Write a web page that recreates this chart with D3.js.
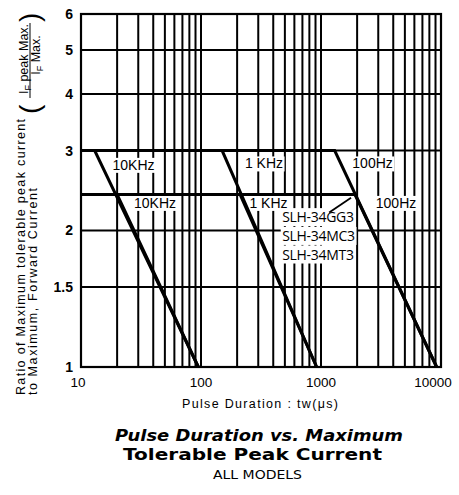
<!DOCTYPE html>
<html>
<head>
<meta charset="utf-8">
<script src="https://cdn.jsdelivr.net/npm/d3@7"></script>
<style>
  body { margin: 0; background: #fff; }
  svg { display: block; }
  .grid line { stroke: #000; stroke-width: 2; }
  .curve { fill: none; stroke: #000; stroke-width: 3; stroke-linejoin: miter; }
  .tick-y { font: bold 14px "Liberation Sans", Arial, sans-serif; }
  .tick-x { font: 13.5px "Liberation Sans", Arial, sans-serif; }
  .freq { font: 14px "Liberation Sans", Arial, sans-serif; }
  .model { font: 14px "Open Sans", sans-serif; letter-spacing: -0.3px; }
  .ytitle { font: 12.5px "Liberation Sans", Arial, sans-serif; }
</style>
</head>
<body>
<script>
"use strict";

// window / plot box
var W = 459, H = 495;
var plot = {left: 81, right: 441, top: 14, bottom: 367};

// axis ticks
var xTickValues = [10, 100, 1000, 10000];
var xTickLabels = ["10", "100", "1000", "10000"];
var yTickValues = [1, 1.5, 2, 3, 4, 5, 6];
var yTickLabels = ["1", "1.5", "2", "3", "4", "5", "6"];
var xMinorGrid = [20, 30, 40, 50, 60, 70, 80, 90, 100,
                  200, 300, 400, 500, 600, 700, 800, 900, 1000,
                  2000, 3000, 4000, 5000, 6000, 7000, 8000, 9000];
var yGrid = [1.5, 2, 3, 4, 5];

// curves: one per repetition frequency, two current levels
var frequencies = ["10KHz", "1 KHz", "100Hz"];
var levelHigh = 3.0;          // other models
var levelLow = 2.4;           // SLH-34GG3 / MC3 / MT3
var kneeHigh = [13, 150, 1300];   // tw where roll-off starts at 3.0
var kneeLow = [20, 212, 1920];    // tw where roll-off meets 2.4
var endAtOne = [95, 920, 9200];   // tw where ratio reaches 1

// label positions (tw, ratio)
var labelHighPos = [[27.4, 2.79], [335, 2.81], [2690, 2.81]];
var labelLowPos = [[41.4, 2.30], [365, 2.30], [4220, 2.30]];
var modelNames = ["SLH-34GG3", "SLH-34MC3", "SLH-34MT3"];
var modelPos = [[475, 2.14], [475, 1.945], [475, 1.77]];
var pointerFrom = [1170, 2.19], pointerTo = [1780, 2.36];

var x = d3.scaleLog().domain([10, 10000]).range([plot.left, plot.right]);
var y = d3.scaleLog().domain([1, 6]).range([plot.bottom, plot.top]);

var svg = d3.select("body").append("svg")
    .attr("width", W)
    .attr("height", H);

// -- grid --
var grid = svg.append("g").attr("class", "grid");
grid.selectAll(".gx").data(xMinorGrid).enter()
  .append("line")
    .attr("x1", function(d){ return x(d); })
    .attr("x2", function(d){ return x(d); })
    .attr("y1", plot.top)
    .attr("y2", plot.bottom);
grid.selectAll(".gy").data(yGrid).enter()
  .append("line")
    .attr("x1", plot.left)
    .attr("x2", plot.right)
    .attr("y1", function(d){ return y(d); })
    .attr("y2", function(d){ return y(d); });

svg.append("rect")
    .attr("x", plot.left)
    .attr("y", plot.top)
    .attr("width", plot.right - plot.left)
    .attr("height", plot.bottom - plot.top)
    .attr("fill", "none")
    .attr("stroke", "#000")
    .attr("stroke-width", 2.2);

// -- tick labels --
svg.selectAll(".tick-y").data(yTickValues).enter()
  .append("text")
    .attr("class", "tick-y")
    .attr("x", 73)
    .attr("y", function(d){ return y(d) + 5; })
    .attr("text-anchor", "end")
    .text(function(d, i){ return yTickLabels[i]; });

svg.selectAll(".tick-x").data(xTickValues).enter()
  .append("text")
    .attr("class", "tick-x")
    .attr("x", function(d, i){ return x(d) + (i == 0 ? -3 : i == 3 ? -8 : 0); })
    .attr("y", 387)
    .attr("text-anchor", "middle")
    .text(function(d, i){ return xTickLabels[i]; });

// white boxes behind labels, so grid lines break around them
var labelLayer = svg.append("g");
var curveLayer = svg.append("g");
var textLayer = svg.append("g");

function addLabel(txt, cls, px, py, anchor){
  var t = textLayer.append("text")
      .attr("class", cls)
      .attr("x", px)
      .attr("y", py)
      .attr("text-anchor", anchor)
      .text(txt);
  var b = t.node().getBBox();
  labelLayer.append("rect")
      .attr("x", b.x - 1.5)
      .attr("y", b.y + 1)
      .attr("width", b.width + 3)
      .attr("height", b.height - 1)
      .attr("fill", "#fff");
}

frequencies.forEach(function(f, i){
  addLabel(f, "freq", x(labelHighPos[i][0]), y(labelHighPos[i][1]) + 5, "middle");
  addLabel(f, "freq", x(labelLowPos[i][0]), y(labelLowPos[i][1]) + 5, "middle");
});
modelNames.forEach(function(m, i){
  addLabel(m, "model", x(modelPos[i][0]), y(modelPos[i][1]) + 5, "start");
});

// -- curves --
var line = d3.line()
    .x(function(d){ return x(d[0]); })
    .y(function(d){ return y(d[1]); });

var curves = [];
frequencies.forEach(function(f, i){
  curves.push([[10, levelHigh], [kneeHigh[i], levelHigh], [endAtOne[i], 1]]);
  curves.push([[10, levelLow], [kneeLow[i], levelLow], [endAtOne[i], 1]]);
});

curveLayer.selectAll(".curve").data(curves).enter()
  .append("path")
    .attr("class", "curve")
    .attr("d", line);

curveLayer.append("line")
    .attr("x1", x(pointerFrom[0])).attr("y1", y(pointerFrom[1]))
    .attr("x2", x(pointerTo[0])).attr("y2", y(pointerTo[1]))
    .attr("stroke", "#000")
    .attr("stroke-width", 1.8);

// -- axis titles --
svg.append("text")
    .attr("x", 182)
    .attr("y", 408)
    .attr("textLength", 156)
    .attr("lengthAdjust", "spacing")
    .style("font", "12.5px 'Liberation Sans', Arial, sans-serif")
    .text("Pulse Duration : tw(\u03bcs)");

var yt = svg.append("g").attr("transform", "translate(0,395) rotate(-90)");
yt.append("text")
    .attr("class", "ytitle")
    .attr("x", 0).attr("y", 25)
    .attr("textLength", 276)
    .attr("lengthAdjust", "spacing")
    .text("Ratio of Maximum tolerable peak current");
yt.append("text")
    .attr("class", "ytitle")
    .attr("x", 0).attr("y", 37)
    .attr("textLength", 207)
    .attr("lengthAdjust", "spacing")
    .text("to Maximum, Forward Current");

// ( I_F peak Max. / I_F Max. )
yt.append("text")
    .attr("x", 281).attr("y", 39)
    .style("font", "28px 'Liberation Sans', Arial, sans-serif")
    .text("(");
yt.append("text")
    .attr("x", 373).attr("y", 39)
    .style("font", "28px 'Liberation Sans', Arial, sans-serif")
    .text(")");
var num = yt.append("text")
    .attr("class", "ytitle")
    .attr("x", 336).attr("y", 28)
    .attr("text-anchor", "middle");
num.append("tspan").text("I");
num.append("tspan").attr("dy", 3).style("font-size", "9px").text("F");
num.append("tspan").attr("dy", -3).text(" peak Max.");
yt.append("line")
    .attr("x1", 297).attr("x2", 372)
    .attr("y1", 30).attr("y2", 30)
    .attr("stroke", "#000").attr("stroke-width", 1);
var den = yt.append("text")
    .attr("class", "ytitle")
    .attr("x", 340).attr("y", 40)
    .attr("text-anchor", "middle");
den.append("tspan").text("I");
den.append("tspan").attr("dy", 3).style("font-size", "9px").text("F");
den.append("tspan").attr("dy", -3).text(" Max.");

// -- chart title --
svg.append("text")
    .attr("x", 115).attr("y", 440.5)
    .attr("textLength", 288)
    .attr("lengthAdjust", "spacingAndGlyphs")
    .style("font", "italic bold 15px 'DejaVu Sans', sans-serif")
    .text("Pulse Duration vs. Maximum");
svg.append("text")
    .attr("x", 123).attr("y", 459.5)
    .attr("textLength", 259)
    .attr("lengthAdjust", "spacingAndGlyphs")
    .style("font", "bold 15px 'DejaVu Sans', sans-serif")
    .text("Tolerable Peak Current");
svg.append("text")
    .attr("x", 213).attr("y", 478.5)
    .attr("textLength", 89)
    .attr("lengthAdjust", "spacingAndGlyphs")
    .style("font", "12px 'DejaVu Sans', sans-serif")
    .text("ALL MODELS");
</script>
</body>
</html>
